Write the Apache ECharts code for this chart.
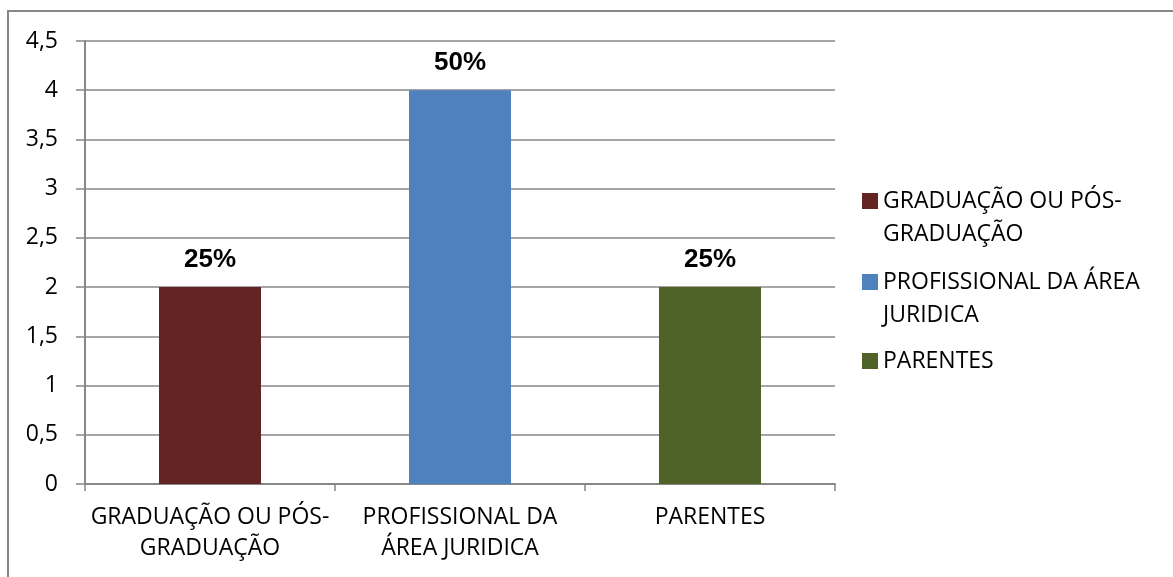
<!DOCTYPE html>
<html>
<head>
<meta charset="utf-8">
<script src="https://cdn.jsdelivr.net/npm/echarts@6/dist/echarts.min.js"></script>
<style>
  html, body { margin: 0; padding: 0; background: #fff; overflow: hidden; }
  #frame { position: absolute; left: 7px; top: 10px; width: 1200px; height: 620px; border: 2px solid #878787; }
  #chart { position: absolute; left: 0; top: 0; width: 1173px; height: 577px; }
</style>
</head>
<body>
<div id="frame"></div>
<div id="chart"></div>
<script>
// categories and values
var categories = ['GRADUAÇÃO OU PÓS-\nGRADUAÇÃO', 'PROFISSIONAL DA\nÁREA JURIDICA', 'PARENTES'];
var seriesNames = ['GRADUAÇÃO OU PÓS-\nGRADUAÇÃO', 'PROFISSIONAL DA ÁREA\nJURIDICA', 'PARENTES'];
var values = [2, 4, 2];
var percentLabels = ['25%', '50%', '25%'];
var colors = ['#632523', '#4f81bd', '#4f6228'];

var font = '"Open Sans", Roboto, sans-serif';
var gridColor = '#878787';

var chart = echarts.init(document.getElementById('chart'));

var series = values.map(function (v, i) {
	var data = values.map(function (x, j) { return j === i ? x : '-'; });
	return {
		name: seriesNames[i],
		type: 'bar',
		stack: 'all',
		barWidth: 102,
		itemStyle: { color: colors[i] },
		label: {
			show: true,
			position: 'top',
			distance: 14,
			formatter: function () { return percentLabels[i]; },
			color: '#000',
			fontFamily: '"Liberation Sans", Arial, sans-serif',
			fontWeight: 'bold',
			fontSize: 26
		},
		data: data
	};
});

// one legend per item so the marker can sit on the first text line
var legendTops = [151.5, 232.5, 344.5];
var legends = seriesNames.map(function (name, i) {
	var twoLines = name.indexOf('\n') >= 0;
	return {
		data: [name],
		orient: 'vertical',
		left: 862,
		top: legendTops[i],
		padding: 0,
		itemWidth: 16,
		itemHeight: 16,
		icon: 'rect',
		selectedMode: false,
		// blank line above keeps the first line level with the marker
		formatter: function (n) { return twoLines ? '\n' + n : n; },
		textStyle: {
			fontFamily: font,
			fontSize: 23,
			color: '#000',
			lineHeight: 33
		}
	};
});

chart.setOption({
	animation: false,
	color: colors,
	legend: legends,
	grid: {
		left: 85,
		top: 41,
		width: 750,
		height: 443,
		containLabel: false
	},
	xAxis: {
		type: 'category',
		data: categories,
		axisLine: { show: true, lineStyle: { color: gridColor, width: 2 } },
		axisTick: { show: true, length: 7, lineStyle: { color: gridColor, width: 1.5 } },
		axisLabel: {
			color: '#000',
			fontFamily: font,
			fontSize: 23,
			lineHeight: 31,
			margin: 18,
			interval: 0
		}
	},
	yAxis: {
		type: 'value',
		min: 0,
		max: 4.5,
		interval: 0.5,
		axisLine: { show: true, lineStyle: { color: gridColor, width: 2 } },
		axisTick: { show: true, length: 9, lineStyle: { color: gridColor, width: 1.5 } },
		splitLine: { show: true, lineStyle: { color: gridColor, width: 1.5 } },
		axisLabel: {
			color: '#000',
			fontFamily: font,
			fontSize: 23,
			margin: 27,
			formatter: function (v) { return String(v).replace('.', ','); }
		}
	},
	series: series
});
</script>
</body>
</html>
